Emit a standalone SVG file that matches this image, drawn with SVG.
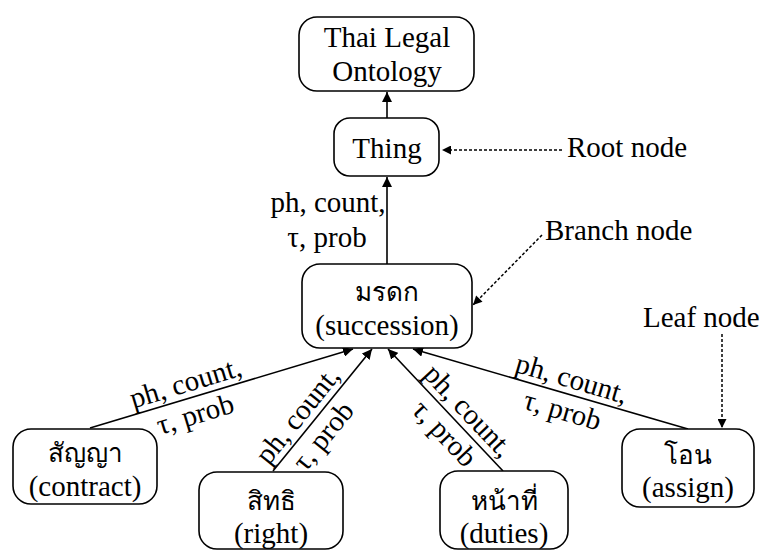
<svg xmlns="http://www.w3.org/2000/svg" width="761" height="551" viewBox="0 0 761 551">
  <style>
    .box { fill: #ffffff; stroke: #000000; stroke-width: 1.6; }
    .edge { fill: none; stroke: #000000; stroke-width: 1.6; }
    .dot { fill: none; stroke: #000000; stroke-width: 1.5; stroke-dasharray: 3 2; }
  </style>
  <defs>
    <marker id="arrow" viewBox="0 0 10 10" refX="10" refY="5" markerWidth="10" markerHeight="10" markerUnits="userSpaceOnUse" orient="auto">
      <path d="M0,0 L10,5 L0,10 z" fill="#000000"/>
    </marker>
    <marker id="arrowSmall" viewBox="0 0 10 10" refX="10" refY="5" markerWidth="10" markerHeight="9" markerUnits="userSpaceOnUse" orient="auto">
      <path d="M0,0 L10,5 L0,10 z" fill="#000000"/>
    </marker>
  </defs>
  <rect width="761" height="551" fill="#ffffff"/>

  <!-- connectors -->
  <g id="connectors">
    <line class="edge" x1="387" y1="118" x2="387" y2="92" marker-end="url(#arrow)"/>
    <line class="edge" x1="387" y1="264" x2="387" y2="177" marker-end="url(#arrow)"/>
    <line class="edge" x1="90" y1="428" x2="353" y2="349" marker-end="url(#arrow)"/>
    <line class="edge" x1="273" y1="471" x2="372" y2="349" marker-end="url(#arrow)"/>
    <line class="edge" x1="503" y1="471" x2="388" y2="349" marker-end="url(#arrow)"/>
    <line class="edge" x1="688" y1="429" x2="413" y2="349" marker-end="url(#arrow)"/>

    <line class="dot" x1="562" y1="150" x2="442" y2="150" marker-end="url(#arrowSmall)"/>
    <line class="dot" x1="542" y1="235" x2="473" y2="305" marker-end="url(#arrowSmall)"/>
    <line class="dot" x1="722" y1="334" x2="722" y2="428" marker-end="url(#arrowSmall)"/>

    <!-- edge labels -->
    <text x="328" y="212" font-family="Liberation Serif" font-size="29" text-anchor="middle">ph, count,</text>
    <text x="327" y="247" font-family="Liberation Serif" font-size="29" text-anchor="middle">τ, prob</text>
    <g transform="translate(190,397.6) rotate(-16.9)">
      <text x="0" y="-6" font-family="Liberation Serif" font-size="29" text-anchor="middle">ph, count,</text>
      <text x="0" y="27" font-family="Liberation Serif" font-size="29" text-anchor="middle">τ, prob</text>
    </g>
    <g transform="translate(309.5,425) rotate(-51)">
      <text x="0" y="-6" font-family="Liberation Serif" font-size="29" text-anchor="middle">ph, count,</text>
      <text x="0" y="27" font-family="Liberation Serif" font-size="29" text-anchor="middle">τ, prob</text>
    </g>
    <g transform="translate(457.3,421.4) rotate(46.7)">
      <text x="0" y="-6" font-family="Liberation Serif" font-size="29" text-anchor="middle">ph, count,</text>
      <text x="0" y="27" font-family="Liberation Serif" font-size="29" text-anchor="middle">τ, prob</text>
    </g>
    <g transform="translate(567.4,393.5) rotate(16.4)">
      <text x="0" y="-6" font-family="Liberation Serif" font-size="29" text-anchor="middle">ph, count,</text>
      <text x="0" y="27" font-family="Liberation Serif" font-size="29" text-anchor="middle">τ, prob</text>
    </g>

    <!-- annotations -->
    <text x="567" y="157" font-family="Liberation Serif" font-size="29">Root node</text>
    <text x="545" y="240" font-family="Liberation Serif" font-size="29">Branch node</text>
    <text x="643" y="327" font-family="Liberation Serif" font-size="29">Leaf node</text>
  </g>

  <!-- nodes -->
  <g id="ontology">
    <rect class="box" x="299" y="17" width="175" height="74" rx="18"/>
    <text x="387" y="47" font-family="Liberation Serif" font-size="29" text-anchor="middle">Thai Legal</text>
    <text x="387" y="81" font-family="Liberation Serif" font-size="29" text-anchor="middle">Ontology</text>
  </g>
  <g id="thing">
    <rect class="box" x="334" y="118" width="105" height="58" rx="16"/>
    <text x="387" y="158" font-family="Liberation Serif" font-size="29" text-anchor="middle">Thing</text>
  </g>
  <g id="succession">
    <rect class="box" x="302" y="264" width="170" height="84" rx="18"/>
    <text x="387" y="301" font-family="Liberation Serif" font-size="26" text-anchor="middle">มรดก</text>
    <text x="387" y="335" font-family="Liberation Serif" font-size="29" text-anchor="middle">(succession)</text>
  </g>
  <g id="contract">
    <rect class="box" x="13" y="429" width="144" height="75" rx="18"/>
    <text x="85" y="462" font-family="Liberation Serif" font-size="26" text-anchor="middle">สัญญา</text>
    <text x="85" y="496" font-family="Liberation Serif" font-size="29" text-anchor="middle">(contract)</text>
  </g>
  <g id="right">
    <rect class="box" x="199" y="472" width="144" height="77" rx="18"/>
    <text x="271" y="510" font-family="Liberation Serif" font-size="26" text-anchor="middle">สิทธิ</text>
    <text x="271" y="543" font-family="Liberation Serif" font-size="29" text-anchor="middle">(right)</text>
  </g>
  <g id="duties">
    <rect class="box" x="440" y="471" width="128" height="78" rx="18"/>
    <text x="504" y="510" font-family="Liberation Serif" font-size="26" text-anchor="middle">หน้าที่</text>
    <text x="504" y="543" font-family="Liberation Serif" font-size="29" text-anchor="middle">(duties)</text>
  </g>
  <g id="assign">
    <rect class="box" x="622" y="429" width="132" height="78" rx="18"/>
    <text x="688" y="464" font-family="Liberation Serif" font-size="26" text-anchor="middle">โอน</text>
    <text x="688" y="497" font-family="Liberation Serif" font-size="29" text-anchor="middle">(assign)</text>
  </g>
</svg>
